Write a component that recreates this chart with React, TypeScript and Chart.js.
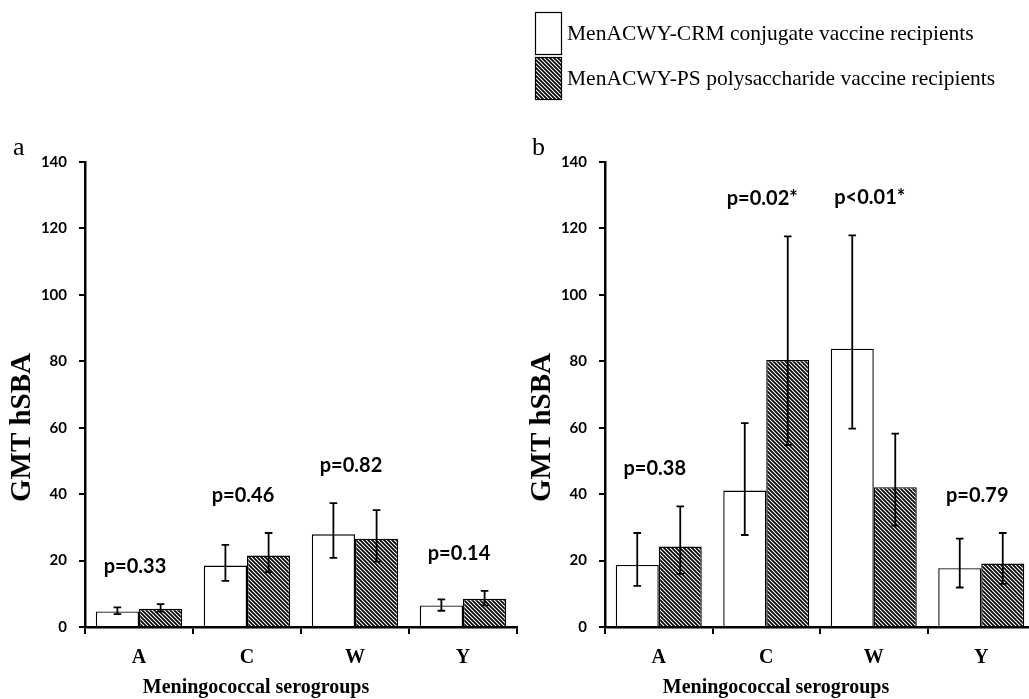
import React, { useEffect, useRef } from "react";
import { Chart, registerables } from "chart.js";

Chart.register(...registerables);

// ---------- data ----------
const categories = ["A", "C", "W", "Y"];
const seriesNames = [
  "MenACWY-CRM conjugate vaccine recipients",
  "MenACWY-PS polysaccharide vaccine recipients",
];
const yMin = 0;
const yMax = 140;
const yStep = 20;

// panel a
const aCrm = [4.7, 18.5, 27.9, 6.5];
const aCrmLow = [3.9, 13.9, 20.8, 4.9];
const aCrmHigh = [5.9, 24.7, 37.3, 8.3];
const aPs = [5.5, 21.5, 26.6, 8.5];
const aPsLow = [4.6, 16.5, 19.7, 6.5];
const aPsHigh = [6.9, 28.3, 35.2, 10.9];
const aPLabels = ["p=0.33", "p=0.46", "p=0.82", "p=0.14"];

// panel b
const bCrm = [18.7, 41.1, 83.8, 17.7];
const bCrmLow = [12.4, 27.7, 59.7, 11.9];
const bCrmHigh = [28.3, 61.4, 117.9, 26.6];
const bPs = [24.2, 80.4, 42.1, 19.1];
const bPsLow = [16.0, 54.8, 30.5, 13.0];
const bPsHigh = [36.3, 117.6, 58.2, 28.3];
const bPLabels = ["p=0.38", "p=0.02*", "p<0.01*", "p=0.79"];

const yTitle = "GMT hSBA";
const xTitle = "Meningococcal serogroups";

// ---------- helpers ----------
const SERIF = "'Liberation Serif', 'Times New Roman', serif";
const SANS = "Lato, 'Noto Sans', sans-serif";

function makeHatch(): CanvasPattern | string {
  const c = document.createElement("canvas");
  const p = 4;
  c.width = p;
  c.height = p;
  const g = c.getContext("2d");
  if (!g) return "#555";
  g.fillStyle = "#fff";
  g.fillRect(0, 0, p, p);
  g.strokeStyle = "#000";
  g.lineWidth = 1.7;
  g.beginPath();
  g.moveTo(-1, -1);
  g.lineTo(p + 1, p + 1);
  g.moveTo(-1, p - 1);
  g.lineTo(1, p + 1);
  g.moveTo(p - 1, -1);
  g.lineTo(p + 1, 1);
  g.stroke();
  return g.createPattern(c, "repeat") || "#555";
}

const overlay = {
  id: "overlay",
  afterDatasetsDraw(chart: any, _args: any, o: any) {
    const ctx = chart.ctx as CanvasRenderingContext2D;
    const ys = chart.scales.y;
    ctx.save();
    ctx.strokeStyle = "#000";
    ctx.lineWidth = 1.8;
    const cap = 3.8;
    (o.errors as { low: number[]; high: number[] }[]).forEach((err, di) => {
      const meta = chart.getDatasetMeta(di);
      meta.data.forEach((bar: any, i: number) => {
        const x = bar.x;
        const yt = ys.getPixelForValue(err.high[i]);
        const yb = ys.getPixelForValue(err.low[i]);
        ctx.beginPath();
        ctx.moveTo(x, yt);
        ctx.lineTo(x, yb);
        ctx.moveTo(x - cap, yt);
        ctx.lineTo(x + cap, yt);
        ctx.moveTo(x - cap, yb);
        ctx.lineTo(x + cap, yb);
        ctx.stroke();
      });
    });
    ctx.restore();
  },
  afterDraw(chart: any, _args: any, o: any) {
    const ctx = chart.ctx as CanvasRenderingContext2D;
    const xs = chart.scales.x;
    const ys = chart.scales.y;
    const area = chart.chartArea;
    ctx.save();
    ctx.fillStyle = "#000";

    // p-value labels
    ctx.font = `bold 20px ${SANS}`;
    ctx.textAlign = "center";
    ctx.textBaseline = "alphabetic";
    (o.pLabels as string[]).forEach((t, i) => {
      const hi = Math.max(...(o.errors as any[]).map((e) => e.high[i]));
      const y = ys.getPixelForValue(hi) - 31;
      const x = xs.getPixelForValue(i) - 4;
      ctx.fillText(t, x, y);
    });

    // panel letter
    ctx.font = `26px ${SERIF}`;
    ctx.textAlign = "left";
    ctx.fillText(o.letter, o.letterX, 155);

    // y title
    ctx.save();
    ctx.translate(area.left - 62.5, 427.5);
    ctx.rotate(-Math.PI / 2);
    ctx.font = `bold 29px ${SERIF}`;
    ctx.textAlign = "center";
    ctx.textBaseline = "middle";
    ctx.fillText(yTitle, 0, 0);
    ctx.restore();

    // x title
    ctx.font = `bold 20px ${SERIF}`;
    ctx.textAlign = "center";
    ctx.textBaseline = "alphabetic";
    ctx.fillText(xTitle, area.left + 171, 692.5);

    // legend
    if (o.legend) {
      const items = chart.data.datasets;
      const boxes = [
        [15, 12],
        [15, 57],
      ];
      const baselines = [39.5, 85];
      ctx.font = `21.5px ${SERIF}`;
      ctx.textAlign = "left";
      items.forEach((ds: any, i: number) => {
        const [bx, by] = boxes[i];
        ctx.fillStyle = ds.backgroundColor;
        ctx.fillRect(bx, by, 26, 42);
        ctx.strokeStyle = "#000";
        ctx.lineWidth = 1.2;
        ctx.strokeRect(bx + 0.5, by + 0.5, 26, 42);
        ctx.fillStyle = "#000";
        ctx.fillText(ds.label, 47, baselines[i]);
      });
    }
    ctx.restore();
  },
};

function buildConfig(
  crm: number[],
  crmLow: number[],
  crmHigh: number[],
  ps: number[],
  psLow: number[],
  psHigh: number[],
  pLabels: string[],
  letter: string,
  letterX: number,
  legend: boolean,
  padRight: number,
  hatch: CanvasPattern | string
): any {
  return {
    type: "bar",
    data: {
      labels: categories,
      datasets: [
        {
          label: seriesNames[0],
          data: crm,
          backgroundColor: "#ffffff",
          borderColor: "#000",
          borderWidth: 1.4,
          categoryPercentage: 0.8,
          barPercentage: 1.0,
        },
        {
          label: seriesNames[1],
          data: ps,
          backgroundColor: hatch,
          borderColor: "#000",
          borderWidth: 1.4,
          categoryPercentage: 0.8,
          barPercentage: 1.0,
        },
      ],
    },
    options: {
      responsive: false,
      animation: false,
      devicePixelRatio: 1,
      layout: { padding: { top: 162, right: padRight, left: 0, bottom: 0 } },
      plugins: {
        legend: { display: false },
        tooltip: { enabled: false },
        title: { display: false },
        overlay: {
          errors: [
            { low: crmLow, high: crmHigh },
            { low: psLow, high: psHigh },
          ],
          pLabels,
          letter,
          letterX,
          legend,
        },
      },
      scales: {
        x: {
          z: 1,
          grid: {
            display: true,
            drawOnChartArea: false,
            drawTicks: true,
            tickLength: 7,
            color: "#000",
            lineWidth: 2,
            offset: true,
          },
          border: { display: true, color: "#000", width: 2.5 },
          ticks: {
            color: "#000",
            font: { family: SERIF, weight: "bold", size: 20 },
            padding: 12,
          },
          afterFit: (s: any) => {
            s.height = 72;
          },
        },
        y: {
          z: 1,
          min: yMin,
          max: yMax,
          ticks: {
            stepSize: yStep,
            color: "#000",
            font: { family: SANS, weight: "bold", size: 15 },
            padding: 12,
          },
          grid: {
            display: true,
            drawOnChartArea: false,
            drawTicks: true,
            tickLength: 6,
            color: "#000",
            lineWidth: 2,
          },
          border: { display: true, color: "#000", width: 2.5 },
          afterFit: (s: any) => {
            s.width = 85;
          },
        },
      },
    },
    plugins: [overlay],
  };
}

export default function App() {
  const refA = useRef<HTMLCanvasElement | null>(null);
  const refB = useRef<HTMLCanvasElement | null>(null);

  useEffect(() => {
    if (!refA.current || !refB.current) return;
    const hatch = makeHatch();
    const chartA = new Chart(
      refA.current,
      buildConfig(aCrm, aCrmLow, aCrmHigh, aPs, aPsLow, aPsHigh, aPLabels, "a", 13, false, 13, hatch)
    );
    const chartB = new Chart(
      refB.current,
      buildConfig(bCrm, bCrmLow, bCrmHigh, bPs, bPsLow, bPsHigh, bPLabels, "b", 12, true, 14, hatch)
    );
    return () => {
      chartA.destroy();
      chartB.destroy();
    };
  }, []);

  return (
    <div
      style={{
        position: "fixed",
        left: 0,
        top: 0,
        width: 1029,
        height: 699,
        overflow: "hidden",
        background: "#fff",
      }}
    >
      <canvas
        ref={refA}
        width={530}
        height={699}
        style={{ position: "absolute", left: 0, top: 0, width: 530, height: 699 }}
      />
      <canvas
        ref={refB}
        width={529}
        height={699}
        style={{ position: "absolute", left: 520, top: 0, width: 529, height: 699 }}
      />
    </div>
  );
}
